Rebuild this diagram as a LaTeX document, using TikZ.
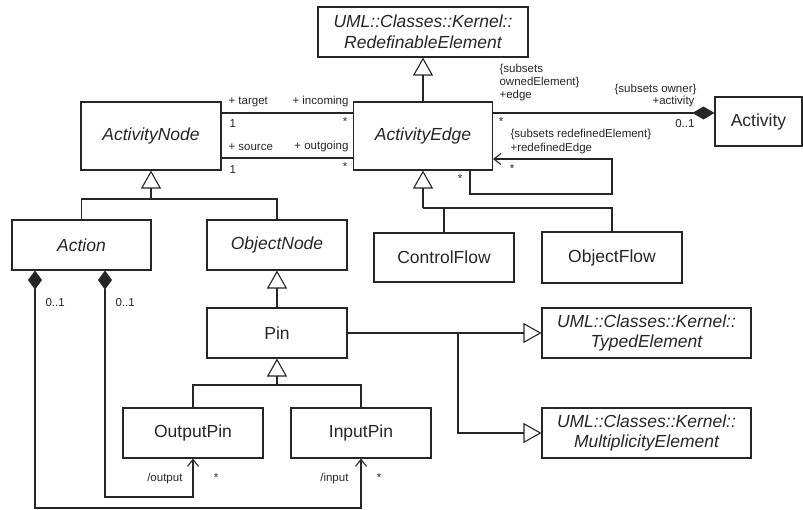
\documentclass[tikz,border=0pt]{standalone}
\usepackage{fontspec}
\setmainfont{Liberation Sans}
\usetikzlibrary{arrows.meta,calc}
\definecolor{ink}{HTML}{262626}
\begin{document}
\begin{tikzpicture}[x=1pt,y=-1pt,line width=1.1pt,color=ink,
  cls/.style={draw=ink,line width=1.1pt,inner sep=0pt,font=\fontsize{17.5}{20.5}\selectfont,text=ink,align=center,minimum height=50pt},
  lbl/.style={font=\fontsize{11.5}{13}\selectfont,inner sep=0pt,text=ink},
  gen/.style={-{Triangle[open,length=18pt,width=20pt,line width=1.1pt]},line join=miter},
  nav/.style={-{Straight Barb[length=7pt,width=11pt,line width=1.1pt]}},
  comp/.style={{Diamond[fill=ink,length=19pt,width=14pt]}-{Straight Barb[length=7pt,width=11pt,line width=1.1pt]}}
]
\useasboundingbox (0,0) rectangle (803,510);

% classes
\node[cls,minimum width=210pt] (RE) at (423,32) {\itshape UML::Classes::Kernel::\\\itshape RedefinableElement};
\node[cls,minimum width=140pt,minimum height=68pt] (AN) at (151,136) {\itshape ActivityNode};
\node[cls,minimum width=139pt,minimum height=68pt] (AE) at (423,136) {\itshape ActivityEdge};
\node[cls,minimum width=87pt,minimum height=49pt] (ACT) at (758.5,121.5) {Activity};
\node[cls,minimum width=139pt] (ACN) at (81.5,245) {\itshape Action};
\node[cls,minimum width=140pt] (ON) at (277,245) {\itshape ObjectNode};
\node[cls,minimum width=140pt,minimum height=49pt] (CF) at (444,257.5) {ControlFlow};
\node[cls,minimum width=140pt,minimum height=51pt] (OF) at (612,257.5) {ObjectFlow};
\node[cls,minimum width=140pt] (PIN) at (277,333) {Pin};
\node[cls,minimum width=209pt] (TE) at (646.5,333) {\itshape UML::Classes::Kernel::\\\itshape TypedElement};
\node[cls,minimum width=209pt] (ME) at (646.5,433) {\itshape UML::Classes::Kernel::\\\itshape MultiplicityElement};
\node[cls,minimum width=140pt] (OP) at (193,433) {OutputPin};
\node[cls,minimum width=140pt] (IP) at (361,433) {InputPin};

% junction coordinates
\coordinate (j1) at (151,199);
\coordinate (j2) at (423,208);
\coordinate (j3) at (277,385);
\coordinate (j4) at (458,333);
\coordinate (loopc) at (612,194);
\coordinate (b1) at (35,508);
\coordinate (b2) at (105,497);

% generalizations
\draw[gen] (AE.north) -- (RE.south);
\draw[gen] (j1) -- (AN.south);
\draw (ACN.north) |- (j1) -| (ON.north);
\draw[gen] (j2) -- (AE.south);
\draw (j2) -| (OF.north);
\draw (CF.north) -- (CF.north |- j2);
\draw[gen] (PIN.north) -- (ON.south);
\draw[gen] (j3) -- (PIN.south);
\draw (OP.north) |- (j3) -| (IP.north);
\draw[gen] (PIN.east) -- (TE.west);
\draw[gen] (j4) |- (ME.west);

% associations
\draw ([yshift=23pt]AN.east) -- ([yshift=23pt]AE.west);
\draw ([yshift=-22pt]AN.east) -- ([yshift=-22pt]AE.west);
\coordinate (ae1) at ([yshift=23pt]AE.east);
\draw[-{Diamond[fill=ink,length=22pt,width=13pt]}] (ae1) -- (ACT.west |- ae1);
\draw[nav] ([xshift=47pt]AE.south) |- (loopc) |- ([yshift=-23pt]AE.east);
\draw[comp] ([xshift=-46.5pt]ACN.south) -- (b1) -| (IP.south);
\draw[comp] ([xshift=23.5pt]ACN.south) -- (b2) -| (OP.south);

% labels
\node[lbl,anchor=west] (l1) at (228,102) {+ target};
\node[lbl,anchor=east] (l2) at (349,102) {+ incoming};
\node[lbl,anchor=west] (l3) at (229,124) {1};
\node[lbl] (l4) at (345,122) {*};
\node[lbl,anchor=west] (l5) at (228,147) {+ source};
\node[lbl,anchor=east] (l6) at (349,147) {+ outgoing};
\node[lbl,anchor=west] (l7) at (229,170) {1};
\node[lbl] (l8) at (345,167) {*};
\node[lbl,anchor=north west,align=left] (l9) at (499,64) {\{subsets\\ownedElement\}\\+edge};
\node[lbl] (l10) at (501,122) {*};
\node[lbl,anchor=east] (l11) at (697,90) {\{subsets owner\}};
\node[lbl,anchor=east] (l12) at (695,102) {+activity};
\node[lbl,anchor=east] (l13) at (695,124) {0..1};
\node[lbl,anchor=west] (l14) at (510,135) {\{subsets redefinedElement\}};
\node[lbl,anchor=west] (l15) at (510,149) {+redefinedEdge};
\node[lbl] (l16) at (512,169) {*};
\node[lbl] (l17) at (460,179) {*};
\node[lbl,anchor=west] (l18) at (45,303) {0..1};
\node[lbl,anchor=west] (l19) at (115,303) {0..1};
\node[lbl,anchor=east] (l20) at (183,479) {/output};
\node[lbl] (l21) at (216,478) {*};
\node[lbl,anchor=east] (l22) at (349,479) {/input};
\node[lbl] (l23) at (379,478) {*};
\end{tikzpicture}
\end{document}
